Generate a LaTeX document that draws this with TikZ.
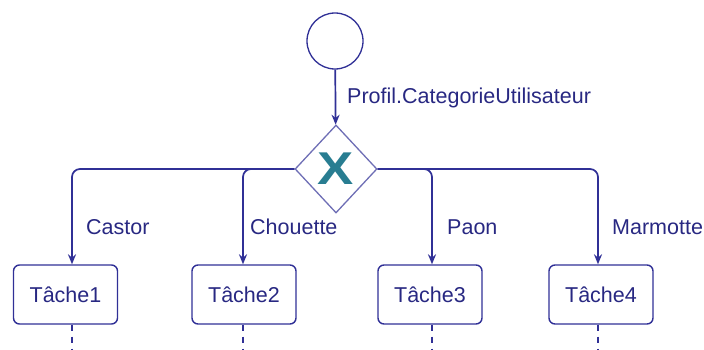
\documentclass[tikz,border=0pt]{standalone}
\usepackage{fontspec}
\setmainfont{Liberation Sans}
\usetikzlibrary{shapes.geometric,arrows.meta}
\definecolor{flux}{RGB}{48,48,150}
\definecolor{texte}{RGB}{40,40,130}
\definecolor{sarcelle}{RGB}{40,125,145}
\tikzset{
  tache/.style={draw=flux, line width=1.4pt, rounded corners=6pt, minimum width=104pt,
    minimum height=59pt, inner sep=0pt, text=texte, font=\fontsize{21.5}{24}\selectfont},
  lien/.style={draw=flux, line width=1.7pt, rounded corners=8pt, -{Stealth[length=10pt,width=8pt]}},
  suite/.style={draw=flux, line width=1.7pt, dash pattern=on 6pt off 6pt},
  etiquette/.style={anchor=west, text=texte, inner sep=0pt, font=\fontsize{21.5}{24}\selectfont}
}
\begin{document}
\begin{tikzpicture}[x=1pt,y=1pt]
\useasboundingbox (0,0) rectangle (704,349);
\node[circle, draw=flux, line width=1.3pt, minimum size=56pt, inner sep=0pt] (debut) at (335,308) {};
\node[diamond, draw=flux!70, line width=1.3pt, minimum width=82pt, minimum height=88pt, inner sep=0pt,
  text=sarcelle, font=\bfseries\fontsize{46}{46}\selectfont] (choix) at (336,180) {\scalebox{1.18}[1]{X}};
\node[tache] (t1) at (65.5,54.5) {Tâche1};
\node[tache] (t2) at (244,54.5) {Tâche2};
\node[tache] (t3) at (430,54.5) {Tâche3};
\node[tache] (t4) at (601,54.5) {Tâche4};
\draw[lien] (debut) -- (choix);
\node[etiquette] (profil) at (347,251) {Profil.CategorieUtilisateur};
\draw[lien] (choix.west) -| ([xshift=6.5pt]t1.north);
\draw[lien] (choix.west) -| ([xshift=-1pt]t2.north);
\draw[lien] (choix.east) -| ([xshift=2pt]t3.north);
\draw[lien] (choix.east) -| ([xshift=-3pt]t4.north);
\node[etiquette] (castor) at (86,122) {Castor};
\node[etiquette] (chouette) at (250,122) {Chouette};
\node[etiquette] (paon) at (447,122) {Paon};
\node[etiquette] (marmotte) at (612,122) {Marmotte};
\draw[suite] ([xshift=6.5pt]t1.south) -- ++(0,-25);
\draw[suite] ([xshift=-1pt]t2.south) -- ++(0,-25);
\draw[suite] ([xshift=2pt]t3.south) -- ++(0,-25);
\draw[suite] ([xshift=-3pt]t4.south) -- ++(0,-25);
\end{tikzpicture}
\end{document}
